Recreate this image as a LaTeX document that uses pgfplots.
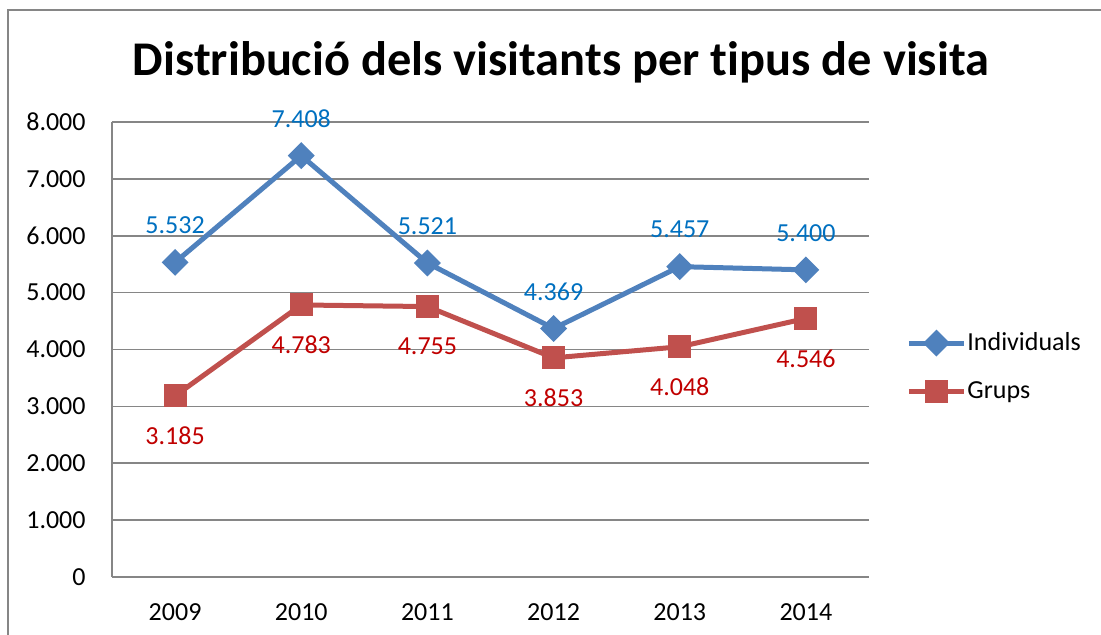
\documentclass[border=0pt]{standalone}
\usepackage{fontspec}
\setmainfont{Carlito}[Ligatures=NoCommon]
\usepackage{pgfplots}
\pgfplotsset{compat=1.18}

\definecolor{indblue}{HTML}{4F81BD}
\definecolor{grpred}{HTML}{C0504D}
\definecolor{lblblue}{HTML}{0070C0}
\definecolor{lblred}{HTML}{C00000}
\definecolor{gridgray}{HTML}{868686}

\begin{document}
\begin{tikzpicture}
% picture bounds (1 px = 0.5 pt)
\path[use as bounding box] (-56pt,-29pt) rectangle (494.5pt,288.5pt);
\draw[gridgray, line width=0.75pt] (-52pt,-29pt) -- (-52pt,283.5pt) -- (494.5pt,283.5pt);
\node[anchor=base, font=\fontsize{24.2}{29}\selectfont\bfseries] at (224.5pt,250.5pt)
  {Distribució dels visitants per tipus de visita};

\begin{axis}[
    at={(0pt,0pt)}, anchor=south west,
    scale only axis,
    width=378.5pt, height=227.5pt,
    xmin=-0.5, xmax=5.5,
    ymin=0, ymax=8000,
    xtick={0,1,2,3,4,5},
    xticklabels={2009,2010,2011,2012,2013,2014},
    ytick={0,1000,...,8000},
    axis x line*=bottom, axis y line*=left,
    axis line style={draw=gridgray, line width=0.75pt, -},
    ymajorgrids, grid style={draw=gridgray, line width=0.75pt},
    major tick length=0pt,
    tick label style={font=\fontsize{13}{15}\selectfont, text=black},
    yticklabel style={inner sep=0pt, xshift=-13pt},
    xticklabel style={inner sep=0pt, yshift=-13pt},
    /pgf/number format/.cd, 1000 sep={.}, assume math mode=true, /pgfplots/.cd,
    scaled y ticks=false,
    clip=false,
    legend style={draw=none, fill=none, inner sep=0pt, at={(1.0489,0.4615)}, anchor=west,
      font=\fontsize{13}{15}\selectfont, row sep=14pt,
      nodes={inner sep=0pt}, column sep=0.5pt},
    legend cell align=left,
    legend image code/.code={\draw[mark repeat=2,mark phase=2,#1] plot coordinates {(0pt,0pt)(13.75pt,0pt)(27.5pt,0pt)};},
    nodes near coords,
    every node near coord/.append style={font=\fontsize{13}{15}\selectfont, anchor=center},
]
\addplot[indblue, line width=2.5pt, mark=square*, mark size=3.5pt,
    mark options={rotate=45, solid},
    every node near coord/.append style={text=lblblue, yshift=18.5pt}]
  coordinates {(0,5532)(1,7408)(2,5521)(3,4369)(4,5457)(5,5400)};
\addlegendentry{Individuals}
\addplot[grpred, line width=2.5pt, mark=square*, mark size=4.5pt,
    mark options={solid},
    every node near coord/.append style={text=lblred, yshift=-20pt}]
  coordinates {(0,3185)(1,4783)(2,4755)(3,3853)(4,4048)(5,4546)};
\addlegendentry{Grups}
\end{axis}
\end{tikzpicture}
\end{document}
